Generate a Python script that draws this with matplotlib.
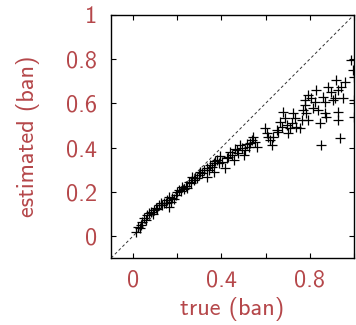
import matplotlib
matplotlib.use("Agg")
import matplotlib.pyplot as plt

plt.rcParams['font.family'] = ['cmss10', 'DejaVu Sans']
plt.rcParams['axes.unicode_minus'] = False

true_vals = [
    0.015, 0.020, 0.035, 0.042, 0.050, 0.065, 0.072, 0.080, 0.095, 0.102,
    0.117, 0.125, 0.140, 0.155, 0.162, 0.162, 0.170, 0.192, 0.200, 0.207,
    0.222, 0.245, 0.252, 0.267, 0.275, 0.290, 0.297, 0.305, 0.312, 0.335,
    0.335, 0.342, 0.357, 0.365, 0.365, 0.380, 0.387, 0.402, 0.417, 0.425,
    0.432, 0.447, 0.455, 0.470, 0.477, 0.492, 0.500, 0.507, 0.523, 0.530,
    0.545, 0.553, 0.560,
    0.030, 0.058, 0.088, 0.110, 0.132, 0.148, 0.178, 0.185, 0.215, 0.230,
    0.238, 0.260, 0.282, 0.320, 0.350, 0.372, 0.395, 0.440, 0.462, 0.485,
    0.515, 0.538,
    0.598, 0.605, 0.613, 0.620, 0.628, 0.635, 0.650, 0.658, 0.665, 0.673,
    0.680, 0.688, 0.695, 0.703, 0.710, 0.718, 0.725, 0.733, 0.740, 0.755,
    0.763, 0.770, 0.778, 0.785, 0.793, 0.778, 0.793, 0.808, 0.815, 0.823,
    0.830, 0.838, 0.845, 0.853, 0.860, 0.868, 0.868, 0.875, 0.883, 0.898,
    0.905, 0.913, 0.920, 0.928, 0.928, 0.928, 0.935, 0.943, 0.950, 0.958,
    0.988, 0.995, 1.000, 1.000, 1.000,
]
estimated_vals = [
    0.020, 0.042, 0.050, 0.065, 0.080, 0.095, 0.103, 0.110, 0.118, 0.125,
    0.140, 0.148, 0.148, 0.163, 0.178, 0.133, 0.155, 0.186, 0.200, 0.208,
    0.223, 0.216, 0.246, 0.268, 0.253, 0.261, 0.276, 0.291, 0.284, 0.268,
    0.306, 0.299, 0.314, 0.329, 0.291, 0.344, 0.329, 0.336, 0.306, 0.351,
    0.359, 0.367, 0.344, 0.389, 0.374, 0.397, 0.367, 0.389, 0.404, 0.419,
    0.449, 0.427, 0.404,
    0.035, 0.072, 0.098, 0.120, 0.138, 0.150, 0.172, 0.168, 0.205, 0.212,
    0.228, 0.240, 0.262, 0.300, 0.320, 0.340, 0.360, 0.380, 0.395, 0.410,
    0.415, 0.435,
    0.487, 0.465, 0.449, 0.434, 0.412, 0.449, 0.480, 0.472, 0.517, 0.495,
    0.563, 0.532, 0.502, 0.465, 0.487, 0.510, 0.555, 0.532, 0.495, 0.487,
    0.525, 0.570, 0.593, 0.555, 0.525, 0.615, 0.638, 0.623, 0.578, 0.608,
    0.661, 0.570, 0.510, 0.412, 0.630, 0.555, 0.608, 0.540, 0.676, 0.653,
    0.615, 0.623, 0.706, 0.661, 0.563, 0.525, 0.442, 0.676, 0.623, 0.698,
    0.796, 0.751, 0.721, 0.615, 0.540,
]

x_ticks = [0, 0.2, 0.4, 0.6, 0.8, 1.0]
x_labels = ['0', '', '0.4', '', '0.8', '']
y_ticks = [0, 0.2, 0.4, 0.6, 0.8, 1.0]
y_labels = ['0', '0.2', '0.4', '0.6', '0.8', '1']

red = '#b5474a'

fig = plt.figure(figsize=(3.56, 3.25), dpi=100)
ax = fig.add_axes([0.312, 0.206, 0.682, 0.748])
ax.plot([-0.1, 1.0], [-0.1, 1.0], linestyle=(0, (3, 2.5)), color='#333333', lw=0.7)
ax.plot(true_vals, estimated_vals, linestyle='none', marker='+', color='black',
        markersize=6.5, markeredgewidth=0.9, clip_on=True)
ax.set_xlim(-0.1, 1.0)
ax.set_ylim(-0.1, 1.0)
ax.set_xticks(x_ticks)
ax.set_xticklabels(x_labels)
ax.set_yticks(y_ticks)
ax.set_yticklabels(y_labels)
ax.tick_params(direction='in', length=3.5, width=0.8, top=True, right=True,
               labelsize=17.5, labelcolor=red)
ax.tick_params(axis='y', pad=10)
ax.tick_params(axis='x', pad=8)
for s in ax.spines.values():
    s.set_linewidth(1.0)
ax.set_xlabel('true (ban)', fontsize=17.5, color=red, labelpad=4)
ax.set_ylabel('estimated (ban)', fontsize=17.5, color=red, labelpad=19)
fig.savefig('out.png', dpi=100)
